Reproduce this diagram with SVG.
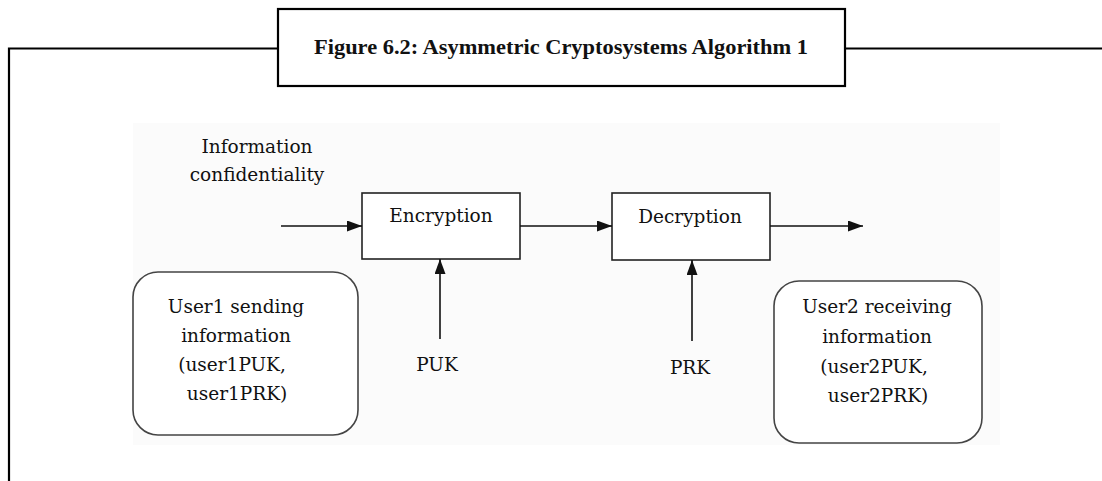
<svg xmlns="http://www.w3.org/2000/svg" width="1102" height="481" viewBox="0 0 1102 481">
  <style>
    .frame { fill: none; stroke: #000; stroke-width: 2.2; }
    .title { font-family: "Liberation Serif", "DejaVu Serif", serif; font-weight: bold; font-size: 21px; fill: #111; }
    .box { fill: #fff; stroke: #222; stroke-width: 1.6; }
    .rbox { fill: #fff; stroke: #444; stroke-width: 1.6; }
    .lbl { font-family: "DejaVu Serif", "Liberation Serif", serif; font-size: 18.5px; fill: #111; text-anchor: middle; }
    .conn { fill: none; stroke: #111; stroke-width: 1.6; }
  </style>
  <defs>
    <marker id="arrow" markerWidth="15" markerHeight="11" refX="15" refY="5.5" orient="auto" markerUnits="userSpaceOnUse">
      <path d="M0,0 L15,5.5 L0,11 Z" fill="#111"/>
    </marker>
  </defs>
  <rect x="0" y="0" width="1102" height="481" fill="#fff"/>
  <rect x="133" y="123" width="867" height="322" fill="#fbfbfb"/>

  <g id="frame">
    <path class="frame" d="M9,481 L9,48.5 L278,48.5 M845,48.5 L1102,48.5"/>
  </g>
  <g id="title">
    <rect class="frame" x="278" y="9" width="567" height="77" fill="#fff"/>
    <text class="title" x="314" y="54" textLength="494" lengthAdjust="spacingAndGlyphs">Figure 6.2: Asymmetric Cryptosystems Algorithm 1</text>
  </g>

  <g id="info-label">
    <text class="lbl" x="257" y="153">Information</text>
    <text class="lbl" x="257" y="181">confidentiality</text>
  </g>

  <g id="encryption">
    <rect class="box" x="362" y="193" width="158" height="66"/>
    <text class="lbl" x="441" y="222">Encryption</text>
  </g>

  <g id="decryption">
    <rect class="box" x="612" y="193" width="158" height="67"/>
    <text class="lbl" x="690" y="223">Decryption</text>
  </g>

  <g id="puk">
    <text class="lbl" x="437" y="371">PUK</text>
  </g>

  <g id="prk">
    <text class="lbl" x="690" y="374">PRK</text>
  </g>

  <g id="user1">
    <rect class="rbox" x="133" y="272" width="225" height="163" rx="25" ry="25"/>
    <text class="lbl" x="236" y="313">User1 sending</text>
    <text class="lbl" x="236" y="342">information</text>
    <text class="lbl" x="232" y="371">(user1PUK,</text>
    <text class="lbl" x="237" y="400">user1PRK)</text>
  </g>

  <g id="user2">
    <rect class="rbox" x="774" y="281" width="208" height="162" rx="25" ry="25"/>
    <text class="lbl" x="877" y="313">User2 receiving</text>
    <text class="lbl" x="877" y="343">information</text>
    <text class="lbl" x="874" y="373">(user2PUK,</text>
    <text class="lbl" x="878" y="402">user2PRK)</text>
  </g>

  <g id="connectors">
    <line class="conn" x1="281" y1="226" x2="362" y2="226" marker-end="url(#arrow)"/>
    <line class="conn" x1="520" y1="226" x2="612" y2="226" marker-end="url(#arrow)"/>
    <line class="conn" x1="770" y1="226" x2="863" y2="226" marker-end="url(#arrow)"/>
    <line class="conn" x1="440" y1="339" x2="440" y2="259" marker-end="url(#arrow)"/>
    <line class="conn" x1="692" y1="341" x2="692" y2="260" marker-end="url(#arrow)"/>
  </g>
</svg>
